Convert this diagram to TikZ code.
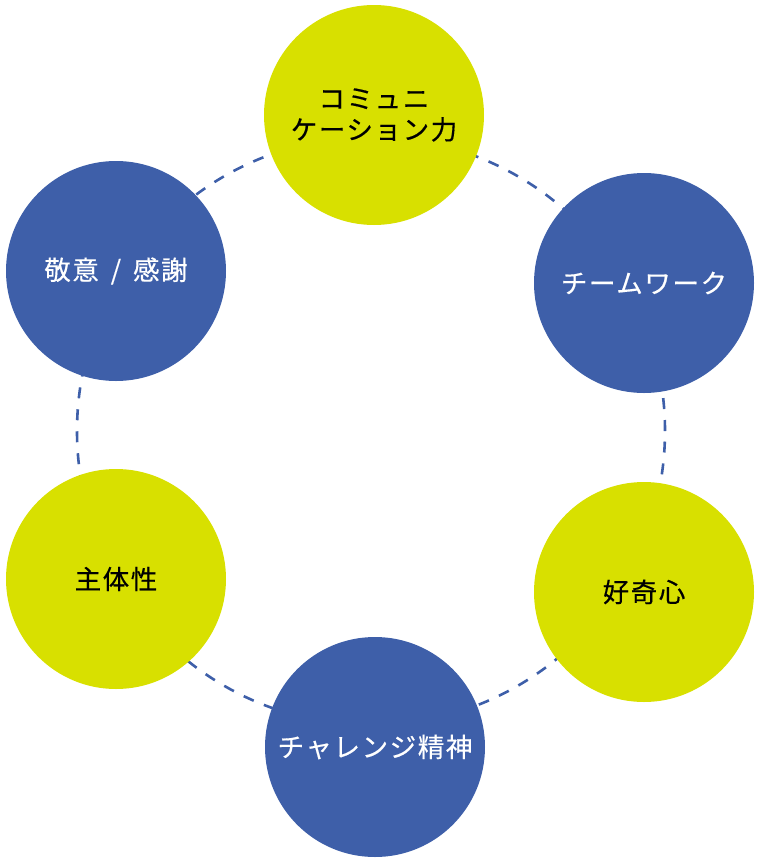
\documentclass[tikz,border=0pt]{standalone}
\usepackage{fontspec}
\setmainfont[LetterSpace=6,FakeBold=0.4]{Noto Sans CJK JP}
\definecolor{bluecirc}{HTML}{3E5FA9}
\definecolor{limecirc}{HTML}{D8E000}
\begin{document}
\begin{tikzpicture}[x=1pt, y=-1pt,
    blueball/.style={circle, fill=bluecirc, minimum size=220pt, inner sep=0pt, text=white, align=center, font=\fontsize{26.5}{31}\selectfont},
    limeball/.style={circle, fill=limecirc, minimum size=220pt, inner sep=0pt, text=black, align=center, font=\fontsize{26.5}{31}\selectfont},
    ring/.style={draw=bluecirc, line width=2.6pt, dash pattern=on 11pt off 11pt}]

\useasboundingbox (0,0) rectangle (760,860);

% --- Cerchio tratteggiato dietro ---
\coordinate (mid) at (371,431);
\draw[ring] (mid) circle [radius=294pt];

% --- Cerchi ---
\node[limeball] (comm) at (374,115) {コミュニ\\ケーション力};
\node[blueball] (team) at (644,283) {チームワーク};
\node[limeball] (curio) at (644,592) {好奇心};
\node[blueball] (chal) at (375,747) {チャレンジ精神};
\node[limeball] (shutai) at (116,579) {主体性};
\node[blueball] (respect) at (116,271) {敬意\hspace{0.45em}/\hspace{0.45em}感謝};

\end{tikzpicture}
\end{document}
